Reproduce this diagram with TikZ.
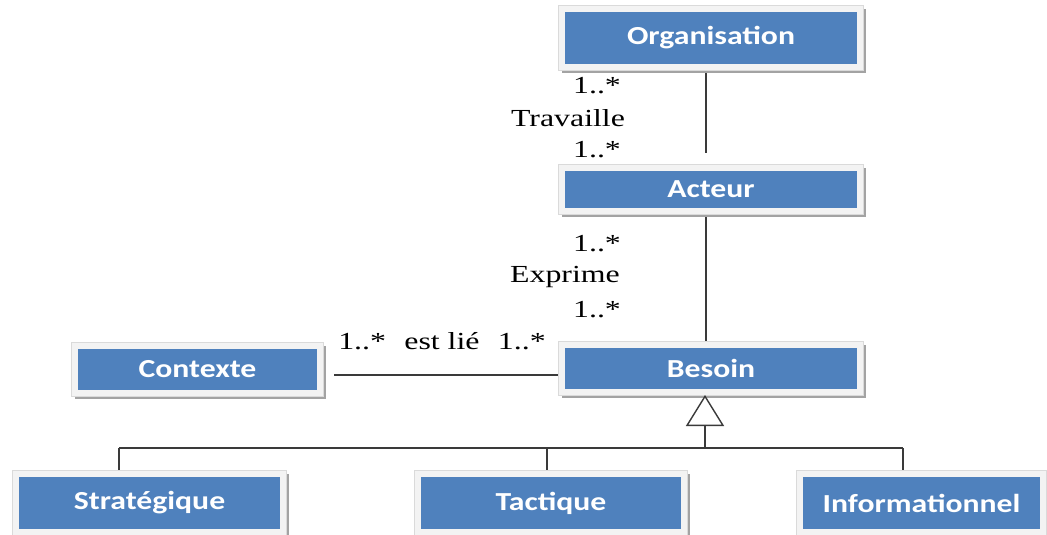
\documentclass[tikz,border=0pt]{standalone}
\usepackage{fontspec}
\setmainfont{Liberation Serif}[FakeStretch=1.3]
\newfontfamily\boxfont{Carlito}[FakeStretch=1.22]
\usetikzlibrary{arrows.meta,backgrounds}

\definecolor{boxblue}{HTML}{4F81BD}
\definecolor{framegray}{HTML}{F3F3F3}
\definecolor{rimgray}{HTML}{DADADA}
\definecolor{shadowgray}{HTML}{A3A3A3}
\definecolor{linegray}{HTML}{3A3A3A}

\tikzset{
  classbox/.style={rectangle, inner sep=0pt, fill=boxblue, draw=framegray,
    line width=6pt, text=white, font=\boxfont\bfseries\fontsize{26}{30}\selectfont,
    preaction={draw=shadowgray, line width=6pt,
      transform canvas={xshift=3pt,yshift=-3pt}},
    preaction={draw=rimgray, line width=7.5pt}},
  assoc/.style={draw=linegray, line width=1.4pt},
  mult/.style={inner sep=0pt, font=\fontsize{24.5}{28}\selectfont}
}

\begin{document}
\begin{tikzpicture}[x=1pt, y=-1pt]
  \useasboundingbox (0,0) rectangle (1047,535);

  % classes
  \node[classbox, minimum width=298pt, minimum height=58pt] (org) at (711,38) {Organisation};
  \node[classbox, minimum width=298pt, minimum height=43pt] (act) at (711,189.5) {Acteur};
  \node[classbox, minimum width=298pt, minimum height=47pt] (bes) at (711,368.5) {Besoin};
  \node[classbox, minimum width=245pt, minimum height=47pt] (ctx) at (197.5,369.5) {Contexte};
  \node[classbox, minimum width=267pt, minimum height=58pt] (strat) at (149.5,503) {Stratégique};
  \node[classbox, minimum width=266pt, minimum height=58pt] (tact) at (551,503) {Tactique};
  \node[classbox, minimum width=243pt, minimum height=58pt] (info) at (921.5,503) {Informationnel};

  % junction points of the connectors
  \coordinate (travEnd) at (706,153);
  \coordinate (hub) at (705,448);
  \coordinate (busL) at (119,448);
  \coordinate (busM) at (547,448);
  \coordinate (busR) at (903,448);

  % white page and the associations, beneath the boxes
  \begin{pgfonlayer}{background}
    \fill[white] (0,0) rectangle (1047,535);
    \draw[assoc] (org.south -| travEnd) -- (travEnd);
    \draw[assoc] (act.south -| travEnd) -- (bes.north -| travEnd);
    \draw[assoc] ([xshift=11pt,yshift=-5.5pt]ctx.east) -- ([yshift=-5.5pt]ctx.east -| bes.west);
    \draw[assoc] (busL) -- (busL |- strat.north);
    \draw[assoc] (busM) -- (busM |- tact.north);
    \draw[assoc] (busR) -- (busR |- info.north);
  \end{pgfonlayer}

  % generalisation
  \draw[assoc] (busL) -- (busR);
  \draw[assoc, -{Triangle[open, length=31pt, width=38pt, fill=white]}] (hub) -- (bes.south -| hub);

  % multiplicities and role names
  \node[mult] (m1) at (597,86) {1..*};
  \node[mult] (trav) at (568,118) {Travaille};
  \node[mult] (m2) at (597,150) {1..*};
  \node[mult] (m3) at (597,244) {1..*};
  \node[mult] (expr) at (565,277) {Exprime};
  \node[mult] (m4) at (597,310) {1..*};
  \node[mult] (lie) at (442,341) {1..*\hspace{0.75em}est lié\hspace{0.75em}1..*};
\end{tikzpicture}
\end{document}
